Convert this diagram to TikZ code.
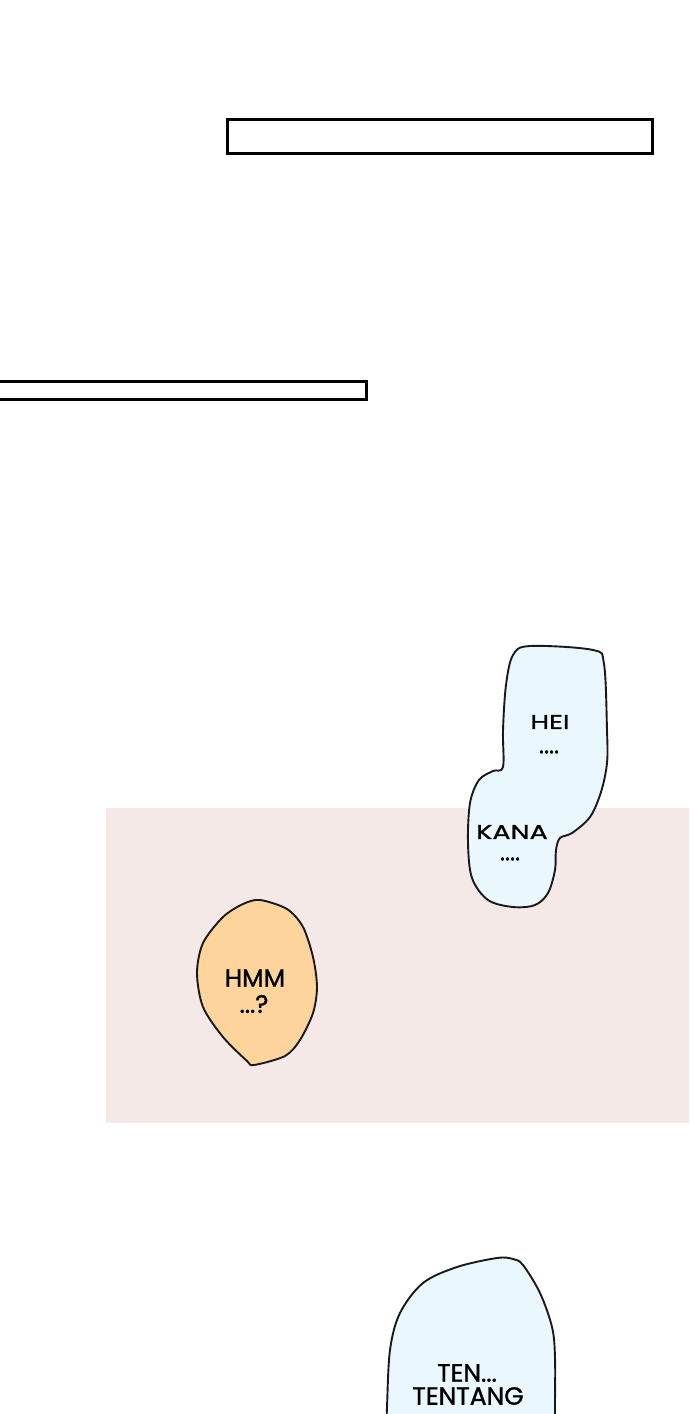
\documentclass[tikz,border=0pt]{standalone}
\usepackage{fontspec}
\setmainfont{Poppins}
\newfontfamily\comic[FakeBold=1.2]{Poppins}
\newfontfamily\comicwide[FakeBold=1.2,FakeStretch=1.35]{Poppins}
\begin{document}
\begin{tikzpicture}[x=1pt,y=-1pt,
  bubline/.style={draw=black!90,line width=1.9pt,line join=round},
  bar/.style={draw=black,line width=3pt,fill=white},
  say/.style={inner sep=0pt,align=center,text=black}]
\clip (0,0) rectangle (689,1414);
\fill[white] (0,0) rectangle (689,1414);
% caption bars
\draw[bar] (227,119) rectangle (652,153);
\draw[bar] (-5,381) rectangle (366,399);
% pink band
\fill[fill={rgb,255:red,245;green,233;blue,232}] (106,808) rectangle (689,1123);
% blue double bubble
\draw[bubline,fill={rgb,255:red,234;green,248;blue,254}] plot[smooth cycle,tension=0.55] coordinates {
 (530,646) (593,650) (604,664) (607,730) (607,763) (601,792) (590,817) (572,833) (560,838)
 (556,850) (555,870) (548,893) (535,905) (513,907) (488,900) (472,878) (468,843) (470,803)
 (479,780) (493,771) (503,767) (503,730) (506,685) (513,655)};
% orange bubble
\draw[bubline,fill={rgb,255:red,253;green,213;blue,156}] plot[smooth cycle,tension=0.5] coordinates {
 (260,900) (287,909) (303,927) (313,957) (317,987) (313,1013) (300,1040) (285,1056) (254,1065)
 (247,1061) (223,1037) (203,1007) (197,973) (203,943) (223,917) (243,904)};
% bottom bubble
\draw[bubline,fill={rgb,255:red,234;green,248;blue,254}] plot[smooth,tension=0.55] coordinates {
 (386,1440) (387,1407) (390,1350) (400,1313) (423,1283) (457,1267) (497,1258) (513,1259)
 (523,1265) (540,1293) (552,1327) (555,1357) (555,1407) (555,1440)};
% texts
\node[say,font=\comicwide\fontsize{20}{20}\selectfont] (hei) at (550,722) {HEI};
\node[say,font=\comic\fontsize{24}{24}\selectfont] (heid) at (549,752) {....};
\node[say,font=\comicwide\fontsize{20}{20}\selectfont] (kana) at (512,832) {KANA};
\node[say,font=\comic\fontsize{24}{24}\selectfont] (kanad) at (510,859) {....};
\node[say,font=\comic\fontsize{25}{25}\selectfont] (hmm) at (255,978) {HMM};
\node[say,font=\comic\fontsize{25}{25}\selectfont] (hmmq) at (254,1004) {...?};
\node[say,font=\comic\fontsize{25}{25}\selectfont] (ten) at (467,1373) {TEN...};
\node[say,font=\comic\fontsize{25}{25}\selectfont] (tentang) at (468,1396) {TENTANG};
\end{tikzpicture}
\end{document}
